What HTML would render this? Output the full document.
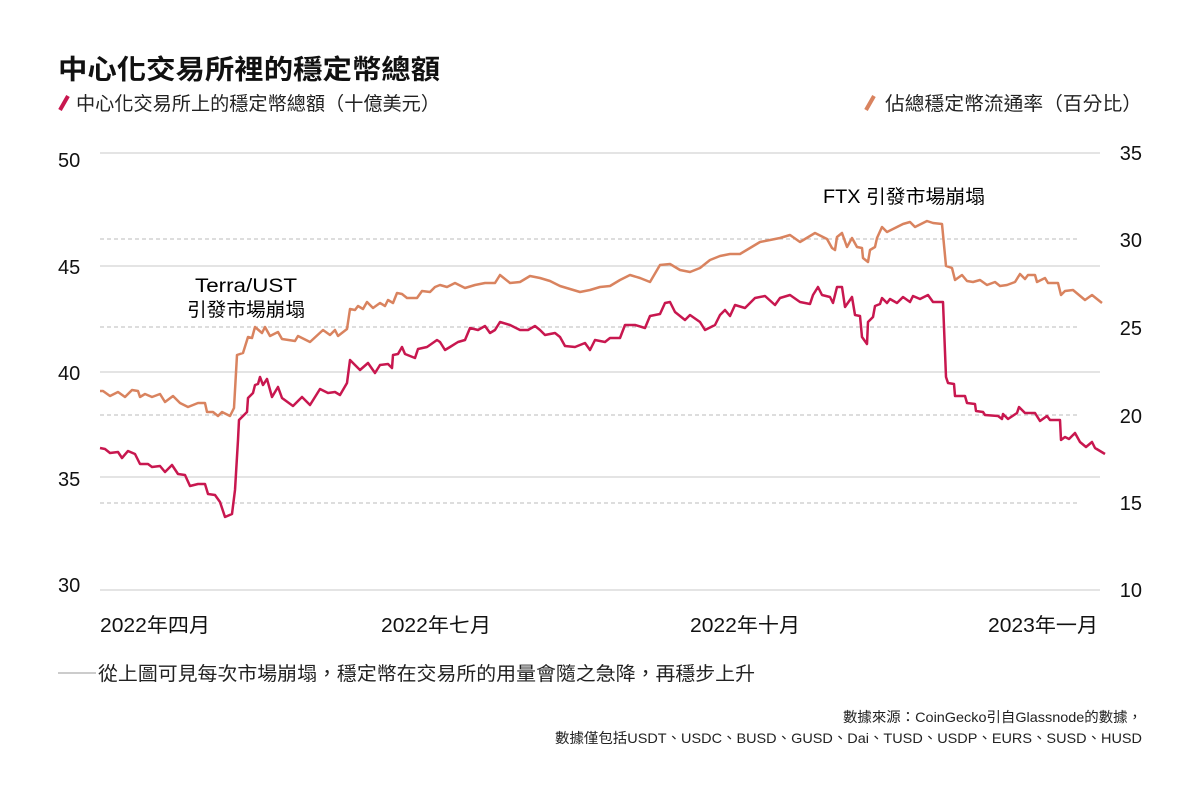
<!DOCTYPE html>
<html><head><meta charset="utf-8"><style>
body{margin:0;background:#fff;width:1200px;height:800px;overflow:hidden;font-family:"Liberation Sans","Noto Sans CJK TC",sans-serif;color:#111}
</style></head><body>
<svg width="1200" height="800" xmlns="http://www.w3.org/2000/svg" style="position:absolute;left:0;top:0;font-family:'Liberation Sans','Noto Sans CJK TC',sans-serif">
<text x="58" y="79" font-size="27" font-weight="bold" fill="#111" textLength="382" lengthAdjust="spacingAndGlyphs">中心化交易所裡的穩定幣總額</text>
<line x1="60" y1="110" x2="68" y2="96" stroke="#c8174f" stroke-width="4"/>
<text x="76" y="110" font-size="19" fill="#222" textLength="364" lengthAdjust="spacingAndGlyphs">中心化交易所上的穩定幣總額（十億美元）</text>
<line x1="866" y1="110" x2="874" y2="96" stroke="#d9835f" stroke-width="4"/>
<text x="885" y="110" font-size="19" fill="#222" textLength="257" lengthAdjust="spacingAndGlyphs">佔總穩定幣流通率（百分比）</text>
<g stroke="#c8c8c8" stroke-width="1">
<line x1="100" y1="153" x2="1100" y2="153"/><line x1="100" y1="266" x2="1100" y2="266"/><line x1="100" y1="372" x2="1100" y2="372"/><line x1="100" y1="477" x2="1100" y2="477"/><line x1="100" y1="590" x2="1100" y2="590"/>
</g>
<g stroke="#bbb" stroke-width="1" stroke-dasharray="4,3">
<line x1="100" y1="239" x2="1078" y2="239"/><line x1="100" y1="327" x2="1078" y2="327"/><line x1="100" y1="415" x2="1078" y2="415"/><line x1="100" y1="503" x2="1078" y2="503"/>
</g>
<g font-size="20" fill="#111">
<text x="58" y="167">50</text><text x="58" y="274">45</text><text x="58" y="380">40</text><text x="58" y="486">35</text><text x="58" y="592">30</text>
<text x="1142" y="160" text-anchor="end">35</text><text x="1142" y="247" text-anchor="end">30</text><text x="1142" y="335" text-anchor="end">25</text><text x="1142" y="423" text-anchor="end">20</text><text x="1142" y="510" text-anchor="end">15</text><text x="1142" y="597" text-anchor="end">10</text>
</g>
<g font-size="20" fill="#111">
<text x="100" y="632" textLength="110" lengthAdjust="spacingAndGlyphs">2022年四月</text><text x="381" y="632" textLength="110" lengthAdjust="spacingAndGlyphs">2022年七月</text><text x="690" y="632" textLength="110" lengthAdjust="spacingAndGlyphs">2022年十月</text><text x="988" y="632" textLength="110" lengthAdjust="spacingAndGlyphs">2023年一月</text>
</g>
<text x="195" y="292" font-size="19" textLength="102" lengthAdjust="spacingAndGlyphs">Terra/UST</text>
<text x="187" y="316" font-size="19" textLength="118" lengthAdjust="spacingAndGlyphs">引發市場崩塌</text>
<text x="823" y="203" font-size="19" textLength="162" lengthAdjust="spacingAndGlyphs">FTX 引發市場崩塌</text>
<polyline fill="none" stroke="#d9835f" stroke-width="2.5" stroke-linejoin="round" points="100,391 103,391 110,396 118,392 125,397 132,390 138,391 140,397 145,394 152,397 160,394 165,402 173,396 180,403 188,407 198,403 205,403 207,412 213,412 218,416 222,412 230,416 234,408 237,355 243,353 248,337 252,338 255,327 262,333 265,327 270,336 278,332 282,339 295,341 298,336 310,342 323,330 330,335 335,330 338,336 347,329 350,309 355,310 358,306 363,309 367,302 373,308 380,303 385,306 388,300 393,303 397,293 402,294 407,298 417,298 422,291 430,292 435,287 440,285 447,287 455,283 465,288 475,285 485,283 495,283 500,275 510,283 520,282 530,276 540,278 550,281 560,286 570,289 580,292 590,290 600,287 610,286 620,280 630,275 640,278 650,282 660,265 670,264 680,270 690,272 700,268 710,260 720,256 730,254 740,254 750,248 760,242 770,240 780,238 790,235 800,242 815,233 827,239 832,248 835,250 837,237 842,233 847,247 852,238 857,247 862,248 863,258 868,262 870,250 875,247 877,238 882,227 887,232 897,227 903,224 910,222 915,227 927,221 933,223 942,224 946,266 952,268 955,280 962,275 967,281 973,282 980,280 987,285 995,282 1000,286 1007,285 1015,282 1020,274 1025,279 1028,275 1035,275 1037,282 1045,278 1048,283 1058,283 1061,295 1065,291 1073,290 1085,300 1092,295 1102,303"/>
<polyline fill="none" stroke="#c8174f" stroke-width="2.5" stroke-linejoin="round" points="100,448 105,449 110,453 118,452 122,458 128,451 135,454 140,464 148,464 152,467 160,466 165,472 172,465 178,474 185,475 190,486 198,484 205,484 208,494 215,495 220,502 225,517 232,514 235,490 238,440 239,420 247,412 248,398 253,393 255,385 258,384 260,377 263,385 267,379 272,397 278,387 282,398 293,406 302,397 310,405 320,389 328,393 335,392 340,395 347,383 350,360 360,370 368,363 375,373 380,365 388,364 392,368 393,355 398,354 402,347 405,354 415,358 418,349 427,347 437,340 440,342 445,350 450,347 458,342 465,340 470,328 478,330 485,326 490,333 495,330 500,322 510,325 520,330 528,330 535,326 540,330 545,335 555,333 560,337 565,346 575,347 585,343 590,350 595,340 605,342 610,338 620,338 625,325 635,325 645,328 650,316 660,314 665,303 670,302 675,312 685,320 690,315 700,322 705,330 715,325 720,315 725,310 730,316 735,305 745,308 755,298 765,296 775,305 780,298 790,295 800,302 810,304 813,295 818,287 822,295 830,297 833,303 837,287 842,287 845,307 852,297 855,315 860,316 862,337 867,344 868,322 873,317 875,306 880,304 882,298 887,303 890,299 897,303 903,297 910,302 913,296 920,299 928,295 933,302 943,302 946,377 948,383 954,384 955,396 965,396 967,403 975,404 976,411 983,412 985,415 998,416 1002,419 1003,414 1008,419 1017,413 1019,407 1025,413 1035,413 1040,421 1047,416 1050,420 1060,420 1061,440 1065,437 1069,439 1075,433 1080,442 1086,447 1092,442 1095,448 1105,454"/>
<line x1="58" y1="673" x2="96" y2="673" stroke="#999" stroke-width="1"/>
<text x="98" y="680" font-size="19" fill="#222" textLength="657" lengthAdjust="spacingAndGlyphs">從上圖可見每次市場崩塌，穩定幣在交易所的用量會隨之急降，再穩步上升</text>
<text x="843" y="722" font-size="14" fill="#222" textLength="299" lengthAdjust="spacingAndGlyphs">數據來源：CoinGecko引自Glassnode的數據，</text>
<text x="555" y="743" font-size="14" fill="#222" textLength="587" lengthAdjust="spacingAndGlyphs">數據僅包括USDT、USDC、BUSD、GUSD、Dai、TUSD、USDP、EURS、SUSD、HUSD</text>
</svg>
</body></html>
